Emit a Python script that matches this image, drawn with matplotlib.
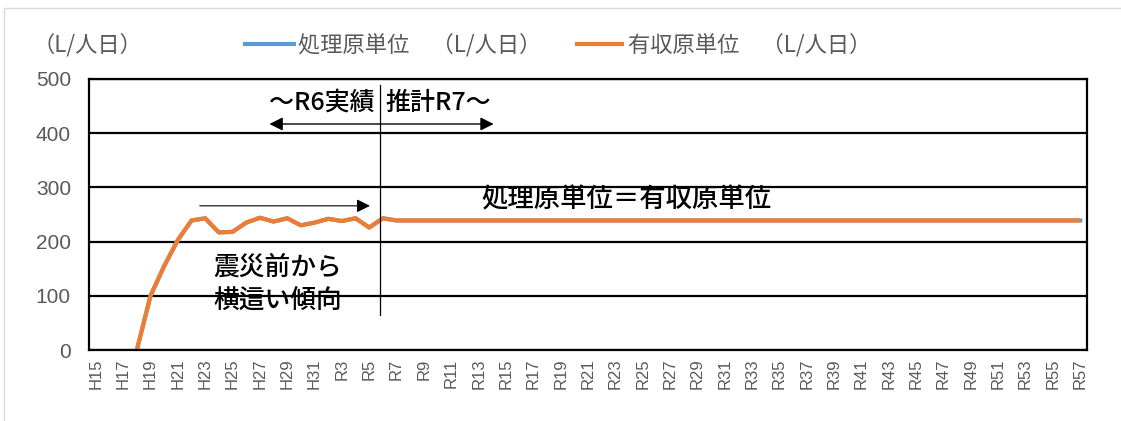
import numpy as np
import matplotlib
matplotlib.use("Agg")
import matplotlib.pyplot as plt
from matplotlib.patches import Rectangle

plt.rcParams['font.family'] = ['Noto Sans CJK JP', 'DejaVu Sans']

# categories: H15..H31, R2..R57
years = [f"H{i}" for i in range(15, 32)] + [f"R{i}" for i in range(2, 58)]

# 有収原単位 (L/人日) - actual up to R6, projection from R7
shushu = [np.nan, np.nan, np.nan, 0, 100, 155, 203, 239, 243, 217, 218,
          235, 244, 237, 243, 230, 235, 242, 238, 243, 226, 243,
          239, 239, 239, 239, 239, 239, 239, 239, 239, 239, 239, 239, 239,
          239, 239, 239, 239, 239, 239, 239, 239, 239, 239, 239, 239, 239,
          239, 239, 239, 239, 239, 239, 239, 239, 239, 239, 239, 239, 239,
          239, 239, 239, 239, 239, 239, 239, 239, 239, 239, 239, 239]
# 処理原単位 is the same as 有収原単位
shori = list(shushu)

yticks = [0, 100, 200, 300, 400, 500]

fig = plt.figure(figsize=(11.21, 4.21), dpi=100)
W, H = 1121, 421
ax = fig.add_axes([89 / W, (H - 350) / H, (1087 - 89) / W, (350 - 79) / H])

x = np.arange(len(years))
l1, = ax.plot(x, shori, color='#5B9BD5', lw=3, label='処理原単位　（L/人日）')
l2, = ax.plot(x, shushu, color='#ED7D31', lw=3, label='有収原単位　（L/人日）',
              solid_capstyle='butt')

ax.set_xlim(-0.5, len(years) - 0.5)
ax.set_ylim(0, 500)
ax.set_yticks(yticks)
ax.set_yticklabels([str(v) for v in yticks], family='Liberation Sans',
                   fontsize=15, color='#595959')
ax.set_xticks(x[::2])
ax.set_xticklabels(years[::2], rotation=90, family='Liberation Sans',
                   fontsize=12, color='#595959')
ax.tick_params(axis='y', length=0, pad=13)
ax.tick_params(axis='x', length=0, pad=6)
ax.grid(axis='y', color='black', lw=1.6)
ax.set_axisbelow(True)
for s in ax.spines.values():
    s.set_color('black')
    s.set_linewidth(1.6)

# annotations
ax.axvline(20.8, ymin=65 / 500, ymax=489 / 500, color='black', lw=0.9)
ax.text(20.4, 456, '～R6実績', ha='right', va='center', fontsize=18,
        fontweight='medium')
ax.text(21.2, 456, '推計R7～', ha='left', va='center', fontsize=18,
        fontweight='medium')
ax.annotate('', xy=(12.7, 417), xytext=(29.1, 417),
            arrowprops=dict(arrowstyle='<|-|>', color='black', lw=1,
                            mutation_scale=20, shrinkA=0, shrinkB=0))
ax.annotate('', xy=(20.05, 266), xytext=(7.6, 266),
            arrowprops=dict(arrowstyle='-|>', color='black', lw=0.8,
                            mutation_scale=20, shrinkA=0, shrinkB=0))
ax.text(8.6, 153, '震災前から', ha='left', va='center', fontsize=18.5,
        fontweight='medium')
ax.text(8.6, 92, '横這い傾向', ha='left', va='center', fontsize=18.5,
        fontweight='medium')
ax.text(28.2, 277, '処理原単位＝有収原単位', ha='left', va='center', fontsize=19,
        fontweight='medium')

# unit label and legend
fig.text(87 / W, 1 - 45 / H, '（L/人日）', ha='center', va='center',
         fontsize=16, color='#595959')
fig.legend(handles=[l1, l2], loc='center left',
           bbox_to_anchor=(225 / W, 1 - 45 / H), ncol=2, frameon=False,
           fontsize=16, handlelength=2.2, handletextpad=0.2,
           columnspacing=1.5, labelcolor='#595959')

# thin outer border
fig.patches.append(Rectangle((4 / W, -0.1), 1.2, (H - 8) / H + 0.1,
                             transform=fig.transFigure, fill=False,
                             edgecolor='#d9d9d9', lw=1))

fig.savefig('out.png', dpi=100)
